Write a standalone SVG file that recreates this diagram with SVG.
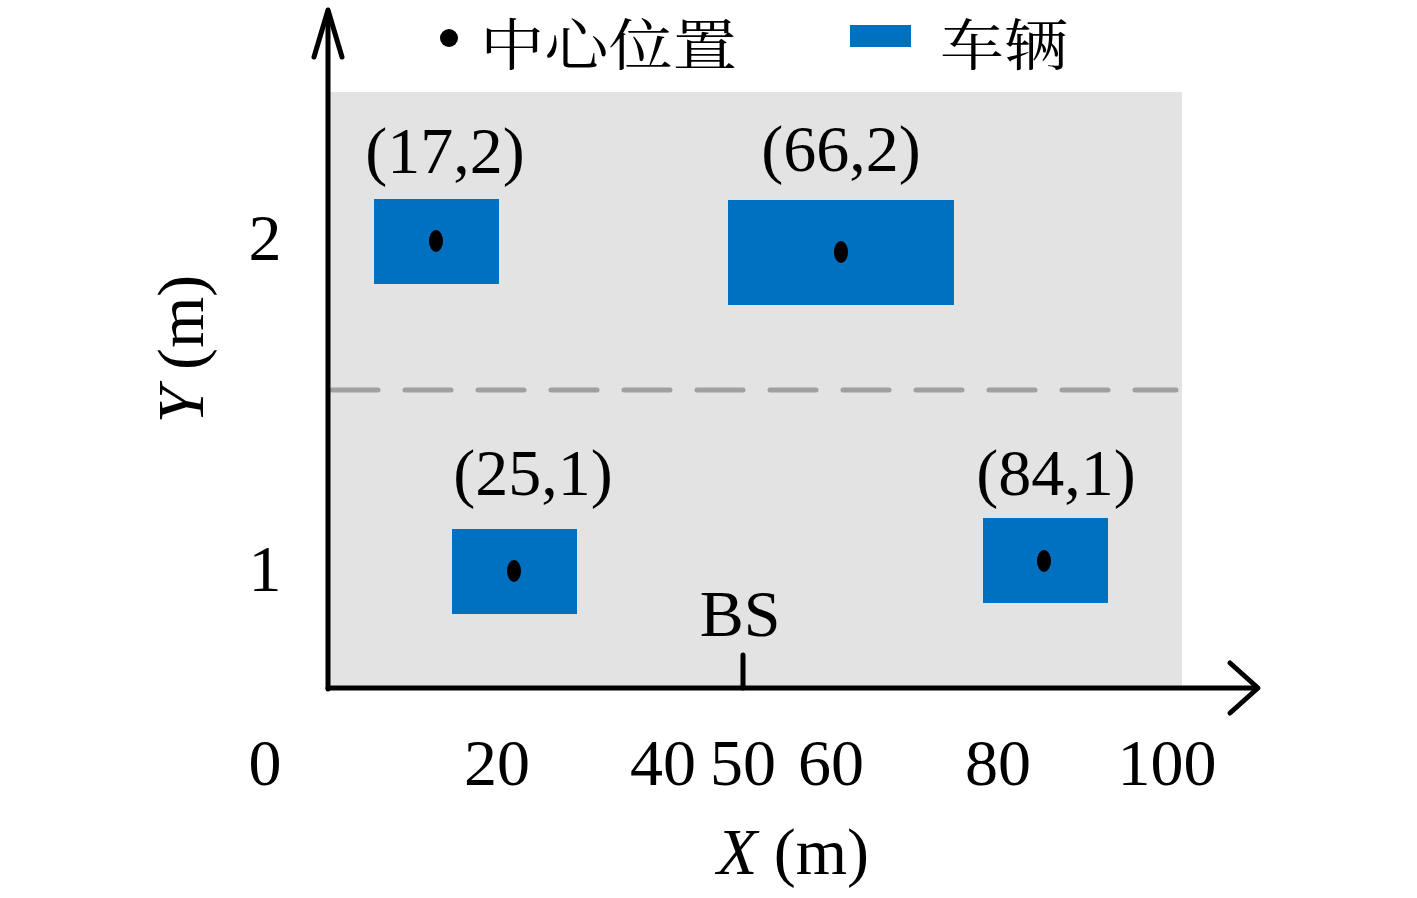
<svg xmlns="http://www.w3.org/2000/svg" width="1417" height="898" viewBox="0 0 1417 898">
<style>
.serif{font-family:"Liberation Serif","Times New Roman",serif;fill:#000;font-size:66px}
.cjk{font-family:"Noto Serif CJK SC","Noto Sans CJK SC",serif;fill:#000}
.car{fill:#0070c0}
.ax{stroke:#000;stroke-width:5;fill:none;stroke-linecap:round;stroke-linejoin:round}
</style>
<rect width="1417" height="898" fill="#fff"/>
<rect id="road" x="330" y="92" width="852" height="595" fill="#e3e3e3"/>
<g id="connectors">
<line x1="332" y1="390" x2="1176" y2="390" stroke="#a0a0a0" stroke-width="5" stroke-linecap="round" stroke-dasharray="46 27"/>
<line class="ax" x1="328" y1="689" x2="328" y2="12"/>
<polyline class="ax" points="314,57 328,10 342,57"/>
<line class="ax" x1="328" y1="688" x2="1256" y2="688"/>
<polyline class="ax" points="1230,663 1258,688 1230,713"/>
<line class="ax" x1="743" y1="655" x2="743" y2="688" stroke-width="4"/>
</g>
<g id="legend">
<circle cx="449" cy="38" r="9"/>
<text class="cjk" x="480" y="65" font-size="56" textLength="257" lengthAdjust="spacingAndGlyphs">中心位置</text>
<rect class="car" x="850" y="25" width="61" height="22"/>
<text class="cjk" x="940" y="65" font-size="56" textLength="128" lengthAdjust="spacingAndGlyphs">车辆</text>
</g>
<g id="car1">
<rect class="car" x="374" y="199" width="125" height="85"/>
<ellipse cx="436" cy="241" rx="7" ry="11"/>
<text class="serif" x="445" y="173" text-anchor="middle">(17,2)</text>
</g>
<g id="car2">
<rect class="car" x="728" y="200" width="226" height="105"/>
<ellipse cx="841" cy="252" rx="7" ry="11"/>
<text class="serif" x="841" y="171" text-anchor="middle">(66,2)</text>
</g>
<g id="car3">
<rect class="car" x="452" y="529" width="125" height="85"/>
<ellipse cx="514" cy="571" rx="7" ry="11"/>
<text class="serif" x="533" y="495" text-anchor="middle">(25,1)</text>
</g>
<g id="car4">
<rect class="car" x="983" y="518" width="125" height="85"/>
<ellipse cx="1044" cy="561" rx="7" ry="11"/>
<text class="serif" x="1056" y="495" text-anchor="middle">(84,1)</text>
</g>
<g id="bs">
<text class="serif" x="740" y="636" text-anchor="middle">BS</text>
</g>
<g id="ticks" text-anchor="middle">
<text class="serif" x="265" y="260">2</text>
<text class="serif" x="265" y="591">1</text>
<text class="serif" x="265" y="785">0</text>
<text class="serif" x="497" y="785">20</text>
<text class="serif" x="663" y="785">40</text>
<text class="serif" x="743" y="785">50</text>
<text class="serif" x="831" y="785">60</text>
<text class="serif" x="998" y="785">80</text>
<text class="serif" x="1167" y="785">100</text>
</g>
<g id="axis-labels">
<text class="serif" x="793" y="874" text-anchor="middle"><tspan font-style="italic">X</tspan> (m)</text>
<text class="serif" transform="translate(203,349) rotate(-90)" text-anchor="middle"><tspan font-style="italic">Y</tspan> (m)</text>
</g>
</svg>
